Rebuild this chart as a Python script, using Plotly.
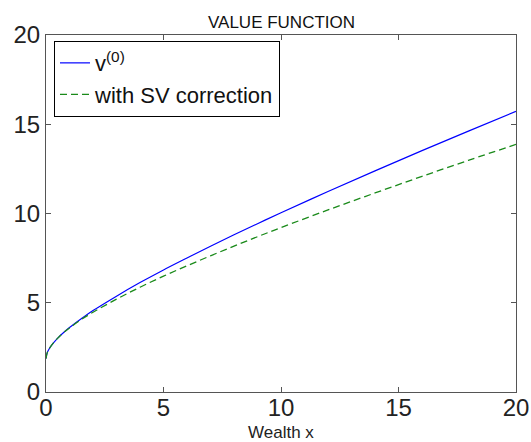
import plotly.graph_objects as go

# Data
wealth = [0, 0.05, 0.15, 0.3, 0.5, 0.75, 1, 1.5, 2, 3, 4, 5, 6, 7, 8, 9, 10, 12, 14, 16, 18, 20]
v0 = [1.87, 2.19, 2.45, 2.72, 3.02, 3.33, 3.61, 4.10, 4.56, 5.37, 6.13, 6.84, 7.51, 8.17,
      8.81, 9.43, 10.04, 11.23, 12.39, 13.52, 14.63, 15.72]
v_sv = [1.87, 2.19, 2.45, 2.72, 3.02, 3.33, 3.59, 4.06, 4.47, 5.20, 5.87, 6.49, 7.07, 7.63,
        8.17, 8.70, 9.21, 10.20, 11.15, 12.08, 12.99, 13.87]

x_ticks = [0, 5, 10, 15, 20]
y_ticks = [0, 5, 10, 15, 20]

FONT = "Liberation Sans, Arial, sans-serif"

fig = go.Figure()
fig.add_trace(go.Scatter(x=wealth, y=v0, mode="lines", name="v<sup>(0)</sup>",
                         line=dict(color="#0000ff", width=1.2, shape="spline")))
fig.add_trace(go.Scatter(x=wealth, y=v_sv, mode="lines", name="with SV correction",
                         line=dict(color="#1a8a1a", width=1.3, dash="7px,4px", shape="spline")))

axis_common = dict(showline=True, linecolor="#555555", linewidth=1, mirror="ticks",
                   ticks="inside", ticklen=5, tickcolor="#555555", showgrid=False,
                   zeroline=False, automargin=False,
                   tickfont=dict(family=FONT, size=24, color="#222222"))

fig.update_layout(
    width=531, height=442,
    margin=dict(l=46, r=15, t=35, b=50),
    paper_bgcolor="white", plot_bgcolor="white",
    showlegend=True,
    legend=dict(x=0.017, y=0.983, xanchor="left", yanchor="top",
                bordercolor="black", borderwidth=1, bgcolor="white",
                font=dict(family=FONT, size=22, color="#111111"),
                tracegroupgap=0, itemwidth=30),
    xaxis=dict(range=[0, 20], tickvals=x_ticks, ticklabelstandoff=-6, **axis_common),
    yaxis=dict(range=[0, 20], tickvals=y_ticks, **axis_common),
    annotations=[
        dict(text="VALUE FUNCTION", x=0.5, y=1, xref="paper", yref="paper",
             xanchor="center", yanchor="bottom", yshift=1, showarrow=False,
             font=dict(family=FONT, size=17, color="#111111")),
        dict(text="Wealth x", x=0.5, y=0, xref="paper", yref="paper",
             xanchor="center", yanchor="middle", yshift=-40, showarrow=False,
             font=dict(family=FONT, size=17, color="#222222")),
    ],
)

fig.write_html("out.html")
